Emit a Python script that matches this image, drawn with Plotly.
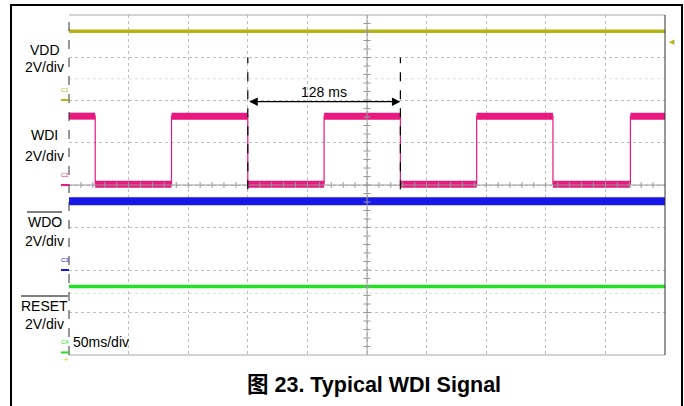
import plotly.graph_objects as go

# ---- data (time in ms, levels in screen divisions, 0 = bottom, 8 = top) ----
t_span = [0, 500]
vdd_level = [7.62, 7.62]
wdi_low, wdi_high = 4.02, 5.62
wdi_edges = [22, 86, 150, 214, 278, 342, 406, 471]   # ms; starts high
wdo_level = [3.62, 3.62]
reset_level = [1.61, 1.61]
period_label = "128 ms"
channel_labels = ["VDD", "WDI", "WDO", "RESET"]
scale_labels = ["2V/div", "2V/div", "2V/div", "2V/div"]
ground_levels = [6.0, 4.0, 2.0, 0.06]
timebase = "50ms/div"
caption = "图 23. Typical WDI Signal"

C_VDD = "#b5b214"
C_WDI = "#e8197f"
C_WDO = "#1818e6"
C_RST = "#24e024"
ch_colors = [C_VDD, C_WDI, C_WDO, C_RST]

# build WDI square wave from the edge list
wx, wy = [t_span[0]], [wdi_high]
lvl = wdi_high
for e in wdi_edges:
    wx += [e, e]
    nxt = wdi_low if lvl == wdi_high else wdi_high
    wy += [lvl, nxt]
    lvl = nxt
wx.append(t_span[1]); wy.append(lvl)

# flat segments only (for the thick "noise band")
bounds = [t_span[0]] + wdi_edges + [t_span[1]]
fx, fy = [], []
lvl = wdi_high
for a, b in zip(bounds[:-1], bounds[1:]):
    fx += [a, b, None]; fy += [lvl, lvl, None]
    lvl = wdi_low if lvl == wdi_high else wdi_high

fig = go.Figure()
fig.add_trace(go.Scatter(x=t_span, y=vdd_level, mode="lines", line=dict(color=C_VDD, width=3.5)))
fig.add_trace(go.Scatter(x=wx, y=wy, mode="lines", line=dict(color=C_WDI, width=1.2)))
fig.add_trace(go.Scatter(x=fx, y=fy, mode="lines", line=dict(color=C_WDI, width=7)))
fig.add_trace(go.Scatter(x=t_span, y=wdo_level, mode="lines", line=dict(color=C_WDO, width=8)))
fig.add_trace(go.Scatter(x=t_span, y=reset_level, mode="lines", line=dict(color=C_RST, width=3.5)))

L, R, T, B = 69, 19, 15, 51
W, H = 684, 406
pw, ph = W - L - R, H - T - B
def px(x): return (x - L) / pw
def py(y): return (H - B - y) / ph

shapes = []
# center crosshair with minor ticks
shapes.append(dict(type="line", xref="x", yref="y", x0=250, x1=250, y0=0, y1=8,
                   line=dict(color="#9a9a9a", width=1)))
shapes.append(dict(type="line", xref="x", yref="y", x0=0, x1=500, y0=4, y1=4,
                   line=dict(color="#9a9a9a", width=1)))
for i in range(1, 40):
    yy = i * 0.2
    shapes.append(dict(type="line", xref="x", yref="y", x0=247, x1=253, y0=yy, y1=yy,
                       line=dict(color="#9a9a9a", width=1)))
for i in range(1, 50):
    xx = i * 10
    shapes.append(dict(type="line", xref="x", yref="y", x0=xx, x1=xx, y0=3.93, y1=4.07,
                       line=dict(color="#9a9a9a", width=1)))
# faint dotted rows
for yy in [6.5, 1.45]:
    shapes.append(dict(type="line", xref="x", yref="y", x0=0, x1=500, y0=yy, y1=yy,
                       line=dict(color="#dddddd", width=1, dash="dot")))
# plot borders
shapes.append(dict(type="line", xref="paper", yref="paper", x0=0, x1=1, y0=1, y1=1,
                   line=dict(color="#a8a8a8", width=1)))
shapes.append(dict(type="line", xref="paper", yref="paper", x0=0, x1=1, y0=0, y1=0,
                   line=dict(color="#a8a8a8", width=1)))
shapes.append(dict(type="line", xref="paper", yref="paper", x0=0, x1=0, y0=0, y1=1,
                   line=dict(color="#333333", width=1, dash="dash")))
shapes.append(dict(type="line", xref="paper", yref="paper", x0=1, x1=1, y0=0, y1=1,
                   line=dict(color="#333333", width=1)))
# dashed cursors at two WDI falling edges
for e in (wdi_edges[2], wdi_edges[4]):
    shapes.append(dict(type="line", xref="x", yref="y", x0=e, x1=e, y0=3.9, y1=7.0,
                       line=dict(color="black", width=1.2, dash="dash")))
# channel ground markers
for g, c in zip(ground_levels, ch_colors):
    shapes.append(dict(type="line", xref="paper", yref="y", x0=px(61), x1=px(69), y0=g, y1=g,
                       line=dict(color=c, width=2)))
# overlines for active-low signals
shapes.append(dict(type="line", xref="paper", yref="paper", x0=px(27), x1=px(62),
                   y0=py(212), y1=py(212), line=dict(color="black", width=1)))
shapes.append(dict(type="line", xref="paper", yref="paper", x0=px(21), x1=px(68),
                   y0=py(296), y1=py(296), line=dict(color="black", width=1)))
# outer frame
shapes.append(dict(type="rect", xref="paper", yref="paper", x0=px(11), x1=px(682),
                   y0=py(420), y1=py(5), line=dict(color="black", width=2)))

ann = []
FONT = "Liberation Sans, Arial, sans-serif"
FS = 14
label_y = [(50, 67), (135, 156), (222, 241), (306, 324)]
for name, sc, (y1, y2) in zip(channel_labels, scale_labels, label_y):
    ann.append(dict(xref="paper", yref="paper", x=px(44.5), y=py(y1), text=name, showarrow=False,
                    xanchor="center", yanchor="middle", font=dict(family=FONT, size=FS, color="black")))
    ann.append(dict(xref="paper", yref="paper", x=px(44), y=py(y2), text=sc, showarrow=False,
                    xanchor="center", yanchor="middle", font=dict(family=FONT, size=FS, color="black")))
for i, (g, c) in enumerate(zip(ground_levels, ch_colors)):
    ann.append(dict(xref="paper", yref="y", x=px(65), y=g, yshift=5, text="C%d" % (i + 1),
                    showarrow=False, xanchor="center", yanchor="bottom",
                    font=dict(family=FONT, size=6, color=c)))
ann.append(dict(xref="paper", yref="paper", x=px(66), y=py(353), text="+", showarrow=False,
                xanchor="center", yanchor="top", font=dict(family=FONT, size=8, color="#d8c800")))
ann.append(dict(xref="paper", yref="paper", x=px(667), y=py(42), text="◀", showarrow=False,
                xanchor="left", yanchor="middle", font=dict(family="DejaVu Sans", size=7, color=C_VDD)))
ann.append(dict(xref="paper", yref="paper", x=px(71), y=py(342), text=timebase, showarrow=False,
                xanchor="left", yanchor="middle", font=dict(family=FONT, size=FS, color="black")))
# double-headed arrow between cursors
ann.append(dict(xref="x", yref="y", axref="x", ayref="y", x=wdi_edges[4], y=5.96,
                ax=wdi_edges[2], ay=5.96, text="", showarrow=True, arrowhead=2, arrowside="end+start",
                arrowsize=1.3, arrowwidth=1.3, arrowcolor="black"))
ann.append(dict(xref="x", yref="y", x=(wdi_edges[2] + wdi_edges[4]) / 2, y=5.96, yshift=10,
                text=period_label, showarrow=False, xanchor="center", yanchor="middle",
                font=dict(family=FONT, size=FS, color="black")))
ann.append(dict(xref="paper", yref="paper", x=px(374), y=py(385), text="<b>" + caption + "</b>",
                showarrow=False, xanchor="center", yanchor="middle",
                font=dict(family="Liberation Sans, Noto Sans CJK SC, sans-serif", size=21.5, color="black")))

fig.update_layout(
    width=W, height=H, margin=dict(l=L, r=R, t=T, b=B),
    paper_bgcolor="white", plot_bgcolor="white", showlegend=False,
    shapes=shapes, annotations=ann,
    xaxis=dict(range=t_span, tickvals=list(range(0, 501, 50)), showticklabels=False, ticks="",
               showgrid=True, gridcolor="#bdbdbd", griddash="dot", gridwidth=1,
               zeroline=False, showline=False, fixedrange=True),
    yaxis=dict(range=[0, 8], tickvals=list(range(0, 9)), showticklabels=False, ticks="",
               showgrid=True, gridcolor="#bdbdbd", griddash="dot", gridwidth=1,
               zeroline=False, showline=False, fixedrange=True),
)
fig.write_html("out.html", config={"displayModeBar": False},
               post_script="document.body.style.margin='0';document.body.style.overflow='hidden';")
